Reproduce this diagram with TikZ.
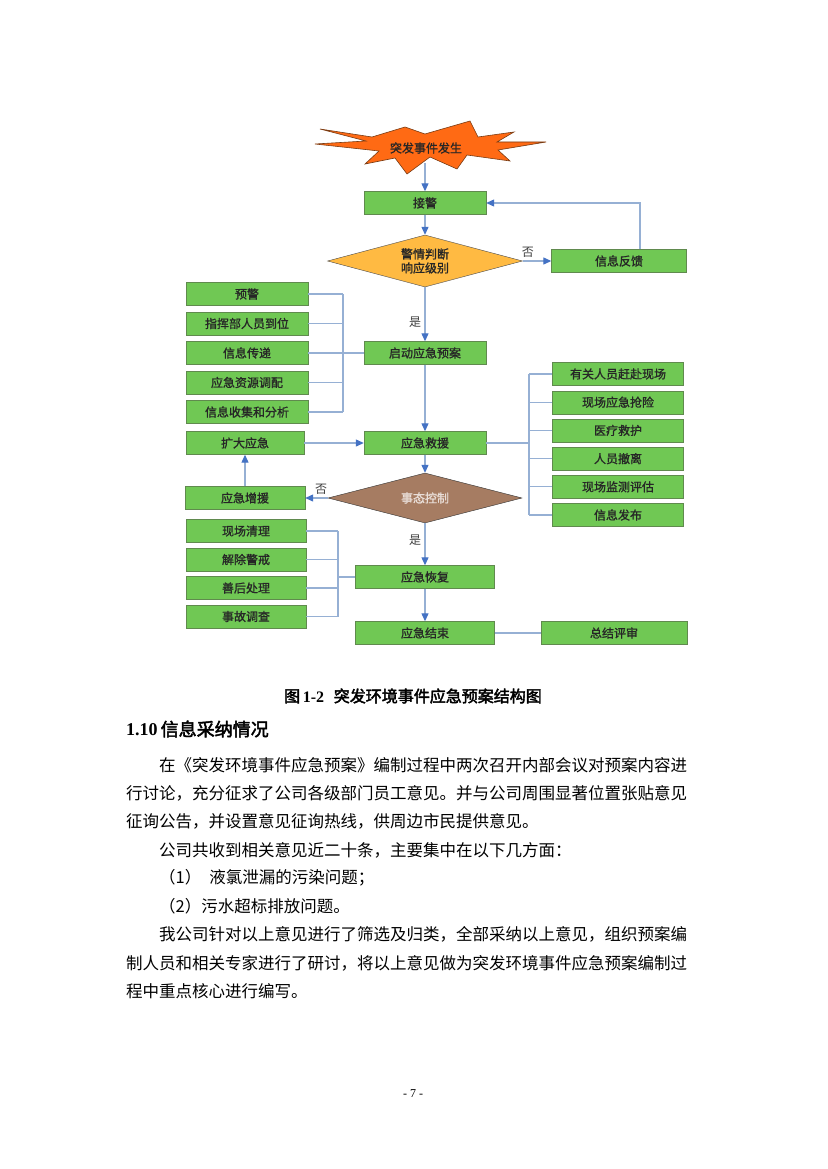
\documentclass[tikz,border=0pt]{standalone}
\usepackage{fontspec}
\setmainfont{Liberation Serif}
\newfontfamily\cjk{Noto Sans CJK SC}
\newfontfamily\cjkmid[FakeBold=1.2]{Noto Sans CJK SC}
\newfontfamily\cjkbold[FakeBold=2.5]{Noto Sans CJK SC}
\usetikzlibrary{arrows.meta, shapes.geometric}
\definecolor{boxgreen}{RGB}{112,200,84}
\definecolor{boxedge}{RGB}{96,138,78}
\definecolor{judgeorange}{RGB}{255,186,66}
\definecolor{haltbrown}{RGB}{166,124,98}
\definecolor{burstorange}{RGB}{255,106,20}
\definecolor{burstedge}{RGB}{120,60,20}
\definecolor{linkblue}{RGB}{150,176,212}
\definecolor{tipblue}{RGB}{68,114,196}

\begin{document}
\begin{tikzpicture}[x=1pt, y=-1pt, node distance={29.5pt},
            main/.style = {draw=boxedge, fill=boxgreen, minimum width=122pt, minimum height=23pt, inner sep=0pt, text=black!85, font=\cjkmid\fontsize{12}{12}\selectfont},
            side/.style = {main, minimum width=131pt},
            decision/.style = {diamond, draw=black!70, fill=judgeorange, aspect=3.75, minimum width=195pt, minimum height=52pt, inner sep=0pt, align=center, text=black!85, font=\cjkmid\fontsize{12}{14}\selectfont},
            halt/.style = {decision, fill=haltbrown, draw=black!80, minimum width=194pt, minimum height=50pt, text=white!75!haltbrown},
            link/.style = {linkblue, line width=1.2pt},
            arr/.style = {link, -{Triangle[color=tipblue, length=8pt, width=7pt]}},
            tag/.style = {text=black!75, font=\cjk\fontsize{12}{12}\selectfont},
            body/.style = {anchor=west, inner sep=0pt, text=black, font=\cjk\fontsize{16.5}{16.5}\selectfont}]
            \path[fill=white, use as bounding box] (0,0) rectangle (827,1169);

            \filldraw[fill=burstorange, draw=burstedge, line width=0.6pt] (320,129) -- (372,137) -- (405,127) -- (425,134) -- (470,121) -- (478,137) -- (514,132) -- (497,142) -- (546,142) -- (498,150) -- (510,161) -- (467,155) -- (457,169) -- (430,157) -- (407,174) -- (395,158) -- (365,164) -- (379,151) -- (315,144) -- (366,141) -- cycle;
            \node[tag, text=black!85, font=\cjkmid\fontsize{12}{12}\selectfont] (burst) at (426,148) {突发事件发生};
            \coordinate (burstfoot) at (425,163);

            \node[main] (receive) at (425,203) {接警};
            \node[decision] (judge) [below of=receive, node distance=58pt] {警情判断\\响应级别};
            \node[main, minimum width=135pt] (feedback) [right of=judge, node distance=194pt] {信息反馈};
            \node[main] (launch) [below of=judge, node distance=92pt] {启动应急预案};
            \node[main] (rescue) [below of=launch, node distance=90pt] {应急救援};
            \node[halt] (control) [below of=rescue, node distance=55pt] {事态控制};
            \node[main, minimum width=139pt] (recover) [below of=control, node distance=79pt] {应急恢复};
            \node[main, minimum width=139pt] (finish) [below of=recover, node distance=56pt] {应急结束};
            \node[main, minimum width=146pt] (review) [right of=finish, node distance=189pt] {总结评审};

            \node[main] (relay) [left of=launch, node distance=178pt] {信息传递};
            \node[main] (command) [above of=relay] {指挥部人员到位};
            \node[main] (warn) [above of=command] {预警};
            \node[main] (allocate) [below of=relay] {应急资源调配};
            \node[main] (analyse) [below of=allocate] {信息收集和分析};

            \node[main, minimum width=118pt] (expand) [left of=rescue, node distance=180pt] {扩大应急};
            \node[main, minimum width=120pt] (reinforce) [left of=control, node distance=180pt] {应急增援};

            \node[side] (arrive) at (618,374) {有关人员赶赴现场};
            \node[side] (salvage) [below of=arrive, node distance=28.2pt] {现场应急抢险};
            \node[side] (medical) [below of=salvage, node distance=28.2pt] {医疗救护};
            \node[side] (evacuate) [below of=medical, node distance=28.2pt] {人员撤离};
            \node[side] (monitor) [below of=evacuate, node distance=28.2pt] {现场监测评估};
            \node[side] (publish) [below of=monitor, node distance=28.2pt] {信息发布};

            \node[main, minimum width=120pt] (clean) at (246,531) {现场清理};
            \node[main, minimum width=120pt] (lift) [below of=clean, node distance=28.5pt] {解除警戒};
            \node[main, minimum width=120pt] (aftermath) [below of=lift, node distance=28.5pt] {善后处理};
            \node[main, minimum width=120pt] (investigate) [below of=aftermath, node distance=28.5pt] {事故调查};

            \coordinate (leftbus) at (343,0);
            \coordinate (rightbus) at (529,0);
            \coordinate (lowbus) at (338,0);

            \foreach \n in {warn,command,relay,allocate,analyse}
                \draw[link] (\n.east) -- (\n.east -| leftbus);
            \draw[link] (warn.east -| leftbus) -- (analyse.east -| leftbus);
            \draw[link] (relay.east -| leftbus) -- (launch.west);

            \foreach \n in {arrive,salvage,medical,evacuate,monitor,publish}
                \draw[link] (\n.west -| rightbus) -- (\n.west);
            \draw[link] (arrive.west -| rightbus) -- (publish.west -| rightbus);
            \draw[link] (rescue.east) -- (rescue.east -| rightbus);

            \foreach \n in {clean,lift,aftermath,investigate}
                \draw[link] (\n.east) -- (\n.east -| lowbus);
            \draw[link] (clean.east -| lowbus) -- (investigate.east -| lowbus);
            \draw[link] (recover.west -| lowbus) -- (recover.west);

            \path[arr] (burstfoot) edge (receive);
            \path[arr] (receive) edge (judge);
            \path[arr] (judge) edge node[tag, pos=0.18, above] {否} (feedback);
            \draw[arr] ([xshift=21pt]feedback.north) |- (receive);
            \path[arr] (judge) edge node[tag, pos=0.65, left] {是} (launch);
            \path[arr] (launch) edge (rescue);
            \path[arr] (expand) edge (rescue);
            \path[arr] (rescue) edge (control);
            \path[arr] (control) edge node[tag, pos=0.3, above] {否} (reinforce);
            \path[arr] (reinforce) edge (expand);
            \path[arr] (control) edge node[tag, pos=0.4, left] {是} (recover);
            \path[arr] (recover) edge (finish);
            \path[link] (finish) edge (review);

            \node[inner sep=0pt] (caption) at (413,696) {\fontsize{16}{16}\selectfont{\cjkbold 图}\,\textbf{1-2}\hspace{0.6em}{\cjkbold 突发环境事件应急预案结构图}};
            \node[inner sep=0pt, anchor=west] (heading) at (126,729) {\fontsize{18}{18}\selectfont\textbf{1.10}\,{\cjkbold 信息采纳情况}};

            \node[body] (para1a) at (159,765) {在《突发环境事件应急预案》编制过程中两次召开内部会议对预案内容进};
            \node[body] (para1b) at (126,793) {行讨论，充分征求了公司各级部门员工意见。并与公司周围显著位置张贴意见};
            \node[body] (para1c) at (126,821) {征询公告，并设置意见征询热线，供周边市民提供意见。};
            \node[body] (para2) at (159,850) {公司共收到相关意见近二十条，主要集中在以下几方面：};
            \node[body] (item1) at (159,878) {（1）\hspace{8pt}液氯泄漏的污染问题；};
            \node[body] (item2) at (159,906) {（2）污水超标排放问题。};
            \node[body] (para3a) at (159,934) {我公司针对以上意见进行了筛选及归类，全部采纳以上意见，组织预案编};
            \node[body] (para3b) at (126,963) {制人员和相关专家进行了研讨，将以上意见做为突发环境事件应急预案编制过};
            \node[body] (para3c) at (126,991) {程中重点核心进行编写。};

            \node[inner sep=0pt] (pageno) at (413,1094) {\fontsize{12}{12}\selectfont - 7 -};
        \end{tikzpicture}
\end{document}
